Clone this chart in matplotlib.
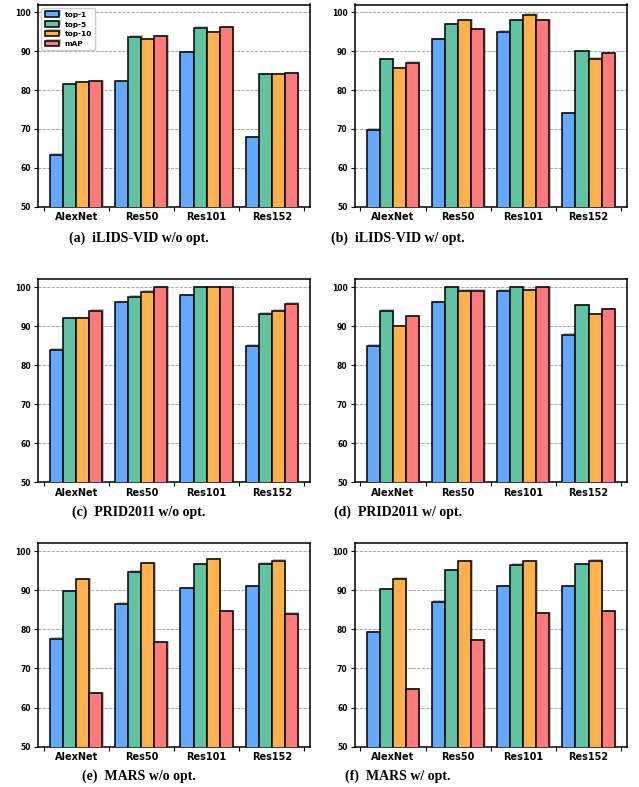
import matplotlib
matplotlib.use("Agg")
import matplotlib.pyplot as plt
import matplotlib.patheffects as pe
import numpy as np

models = ["AlexNet", "Res50", "Res101", "Res152"]
metrics = ["top-1", "top-5", "top-10", "mAP"]
colors = ["#62a9ff", "#60c3a2", "#ffb24c", "#ff7b7b"]

# rows: metric, cols: model
ilids_wo = [[63.4, 82.3, 89.8, 67.9],
            [81.5, 93.7, 96.0, 84.0],
            [82.0, 93.0, 94.8, 84.0],
            [82.3, 93.9, 96.2, 84.4]]
ilids_w = [[69.8, 93.0, 95.0, 74.1],
           [87.9, 96.9, 98.0, 90.0],
           [85.6, 98.0, 99.4, 88.1],
           [87.0, 95.6, 98.0, 89.4]]
prid_wo = [[84.0, 96.1, 98.0, 85.0],
           [92.0, 97.5, 100.0, 93.2],
           [92.0, 98.8, 100.0, 94.0],
           [94.0, 100.0, 100.0, 95.8]]
prid_w = [[85.0, 96.1, 99.1, 87.8],
          [94.0, 100.0, 100.0, 95.3],
          [90.0, 99.1, 99.2, 93.1],
          [92.6, 99.1, 100.0, 94.4]]
mars_wo = [[77.6, 86.6, 90.6, 91.0],
           [89.8, 94.7, 96.7, 96.8],
           [92.8, 96.9, 97.9, 97.6],
           [63.7, 76.7, 84.6, 84.0]]
mars_w = [[79.2, 87.1, 91.0, 91.1],
          [90.3, 95.1, 96.5, 96.6],
          [93.0, 97.4, 97.4, 97.6],
          [64.7, 77.3, 84.2, 84.7]]

panels = [ilids_wo, ilids_w, prid_wo, prid_w, mars_wo, mars_w]
captions = ["(a)  iLIDS-VID w/o opt.", "(b)  iLIDS-VID w/ opt.",
            "(c)  PRID2011 w/o opt.", "(d)  PRID2011 w/ opt.",
            "(e)  MARS w/o opt.", "(f)  MARS w/ opt."]

W, H = 639, 787
fig = plt.figure(figsize=(W / 100, H / 100), dpi=100)

lefts = [37.7, 354.5]
tops = [4.5, 279.3, 543.3]
bottoms = [206.7, 482.3, 746.7]
cap_x = [139, 398]
cap_y = [238, 512, 776]

x = np.arange(len(models))
w = 0.2
for i, data in enumerate(panels):
    r, c = divmod(i, 2)
    ax = fig.add_axes([lefts[c] / W, 1 - bottoms[r] / H, 272.5 / W,
                       (bottoms[r] - tops[r]) / H])
    for k, m in enumerate(metrics):
        ax.bar(x + (k - 1.5) * w, data[k], w, color=colors[k],
               edgecolor="black", linewidth=1.1, label=m, zorder=3,
               path_effects=[pe.SimplePatchShadow(offset=(1, 1), shadow_rgbFace="gray", alpha=0.5),
                             pe.Normal()])
    ax.set_ylim(50, 102)
    ax.set_yticks(range(50, 101, 10))
    ax.set_xticks(np.arange(-0.5, len(models), 1.0))
    ax.set_xticklabels([])
    ax.set_xticks(x, minor=True)
    ax.set_xticklabels(models, minor=True, fontsize=7, fontweight="bold")
    ax.tick_params(axis="x", which="minor", length=0, pad=4)
    ax.tick_params(axis="x", which="major", length=3, width=0.8)
    ax.tick_params(axis="y", labelsize=5.5, length=3, width=0.8, pad=2)
    for lab in ax.get_yticklabels():
        lab.set_fontweight("bold")
    ax.grid(axis="y", linestyle="--", color="gray", linewidth=0.6, alpha=0.8, zorder=0)
    for s in ax.spines.values():
        s.set_linewidth(1.1)
    if i == 0:
        ax.legend(loc="upper left", prop={"size": 5.3, "weight": "bold"},
                  handlelength=2.0, handleheight=0.8, labelspacing=0.45,
                  borderpad=0.45, handletextpad=0.7, framealpha=1)
    fig.text(cap_x[c] / W, 1 - cap_y[r] / H, captions[i], ha="center", va="center",
             family="Liberation Serif", fontweight="bold", fontsize=10)

fig.savefig("out.png", dpi=100)
